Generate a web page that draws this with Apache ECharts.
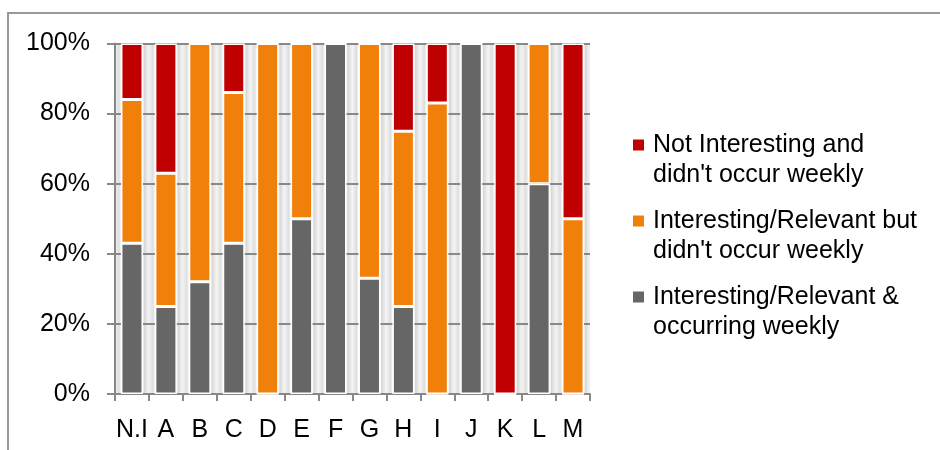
<!DOCTYPE html>
<html>
<head>
<meta charset="utf-8">
<style>
  html, body { margin: 0; padding: 0; background: #fff; }
  #chart { width: 940px; height: 450px; }
</style>
<script src="https://cdn.jsdelivr.net/npm/echarts@6/dist/echarts.min.js"></script>
</head>
<body>
<div id="chart"></div>
<script>
// Categories along the x axis
const categories = ['N.I', 'A', 'B', 'C', 'D', 'E', 'F', 'G', 'H', 'I', 'J', 'K', 'L', 'M'];

// Share of responses per category (percent), stacked bottom to top
const occurringWeekly   = [43, 25, 32, 43, 0, 50, 100, 33, 25, 0, 100, 0, 60, 0];
const relevantNotWeekly = [41, 38, 68, 43, 100, 50, 0, 67, 50, 83, 0, 0, 40, 50];
const notInteresting    = [16, 37, 0, 14, 0, 0, 0, 0, 25, 17, 0, 100, 0, 50];

const seriesNames = [
  'Interesting/Relevant &\noccurring weekly',
  'Interesting/Relevant but\ndidn\'t occur weekly',
  'Not Interesting and\ndidn\'t occur weekly'
];

const yTicks = { min: 0, max: 100, interval: 20 };

const FONT = '"Liberation Sans", Arial, sans-serif';
const colors = ['#666666', '#f0800a', '#c00000'];

// Soft cylinder-like shading in the gaps between columns
const bandShade = {
  type: 'linear', x: 0, y: 0, x2: 1, y2: 0,
  colorStops: [
    { offset: 0.0, color: '#f2f2f2' },
    { offset: 0.12, color: '#dedede' },
    { offset: 0.17, color: '#f6f6f6' },
    { offset: 0.83, color: '#f6f6f6' },
    { offset: 0.86, color: '#d6d6d6' },
    { offset: 0.95, color: '#ececec' },
    { offset: 1.0, color: '#f2f2f2' }
  ]
};

const chart = echarts.init(document.getElementById('chart'), null, { renderer: 'canvas' });

function barSeries(name, data, color) {
  return {
    name: name,
    type: 'bar',
    stack: 'total',
    data: data,
    barWidth: 22,
    itemStyle: { color: color, borderColor: '#ffffff', borderWidth: 1.5 },
    emphasis: { disabled: true }
  };
}

// One legend block per series; a blank leading line keeps the marker level
// with the first line of the two-line label.
function legendFor(name, top) {
  return {
    data: [name],
    left: 628,
    top: top,
    orient: 'vertical',
    itemWidth: 11,
    itemHeight: 11,
    icon: 'rect',
    selectedMode: false,
    itemStyle: { borderWidth: 0 },
    formatter: n => ' \n' + n,
    textStyle: {
      fontFamily: FONT,
      fontSize: 25,
      color: '#000',
      lineHeight: 30,
      padding: [0, 0, 0, 4]
    }
  };
}

chart.setOption({
  animation: false,
  backgroundColor: '#ffffff',
  color: colors,
  graphic: [{
    type: 'rect',
    shape: { x: 8, y: 13, width: 1000, height: 1000 },
    style: { fill: 'none', stroke: '#999999', lineWidth: 2 },
    silent: true,
    z: -10
  }],
  legend: [
    legendFor(seriesNames[2], 95),
    legendFor(seriesNames[1], 171),
    legendFor(seriesNames[0], 247)
  ],
  grid: { left: 115, right: 350, top: 43.5, bottom: 56, containLabel: false },
  xAxis: {
    type: 'category',
    data: categories,
    boundaryGap: true,
    axisLine: { show: true, lineStyle: { color: '#888888', width: 2 } },
    axisTick: { show: true, length: 7, interval: 0, lineStyle: { color: '#888888', width: 2 } },
    axisLabel: { interval: 0, margin: 24, fontFamily: FONT, fontSize: 25, color: '#000' },
    splitArea: { show: true, interval: 0, areaStyle: { color: [bandShade] } },
    splitLine: { show: false }
  },
  yAxis: {
    type: 'value',
    min: yTicks.min,
    max: yTicks.max,
    interval: yTicks.interval,
    z: 1,
    axisLine: { show: true, lineStyle: { color: '#888888', width: 2 } },
    axisTick: { show: true, length: 8, lineStyle: { color: '#888888', width: 2 } },
    axisLabel: { formatter: '{value}%', margin: 25, fontFamily: FONT, fontSize: 25, color: '#000' },
    splitLine: { show: true, lineStyle: { color: '#888888', width: 2 } }
  },
  series: [
    barSeries(seriesNames[0], occurringWeekly, colors[0]),
    barSeries(seriesNames[1], relevantNotWeekly, colors[1]),
    barSeries(seriesNames[2], notInteresting, colors[2])
  ]
});
</script>
</body>
</html>
